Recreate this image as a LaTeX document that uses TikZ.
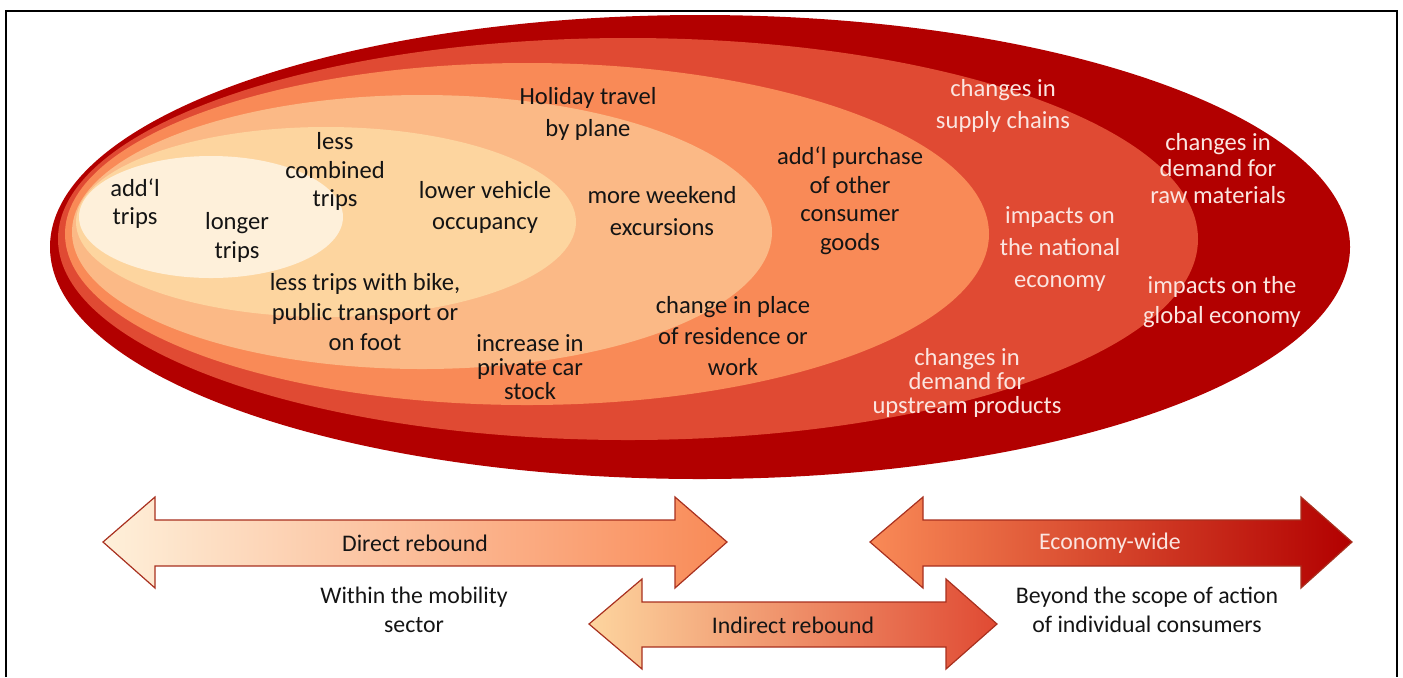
\documentclass[tikz,border=0pt]{standalone}
\usepackage{fontspec}
\setmainfont{Carlito}
\usepackage{tikz}
\usetikzlibrary{positioning,calc}
\definecolor{zoneA}{HTML}{B20000}
\definecolor{zoneB}{HTML}{E04A33}
\definecolor{zoneC}{HTML}{F98A57}
\definecolor{zoneD}{HTML}{FBB986}
\definecolor{zoneE}{HTML}{FDD59F}
\definecolor{zoneF}{HTML}{FEF0DA}
\definecolor{ink}{HTML}{141414}
\definecolor{paleink}{HTML}{FBE5E0}
\definecolor{arrowedge}{HTML}{A8301F}
\tikzset{
  effect/.style={align=center,inner sep=0pt,text=ink,font=\fontsize{12.3}{#1pt}\selectfont},
  effect/.default=14.5,
  wideeffect/.style={effect=#1,text=paleink},
  wideeffect/.default=14.5,
  scope label/.style={align=center,inner sep=0pt,text=ink,font=\fontsize{11.9}{14.5pt}\selectfont},
  blockarrow/.style={draw=arrowedge,line width=0.6pt,line join=miter}
}
\begin{document}
\begin{tikzpicture}[x=0.5pt,y=-0.5pt]
\useasboundingbox (0,0) rectangle (1403,677);
\draw[line width=1pt] (6,677) -- (6,11) -- (1397,11) -- (1397,677);
% nested zones
\fill[zoneA] (700,247) ellipse [x radius=650,y radius=232];
\fill[zoneB] (628,239) ellipse [x radius=570,y radius=201];
\fill[zoneC] (527,234) ellipse [x radius=462,y radius=171];
\fill[zoneD] (422,232) ellipse [x radius=350,y radius=137];
\fill[zoneE] (326,222) ellipse [x radius=250,y radius=95];
\fill[zoneF] (211,217) ellipse [x radius=132,y radius=61];
% effects, inside out
\node[effect=14] (addl) at (135,204) {add‘l\\trips};
\node[effect] (longer) at (237,237.5) {longer\\trips};
\node[effect=14.25] (combined) at (335,171.5) {less\\combined\\trips};
\node[effect=15.5] (occupancy) at (485,207.5) {lower vehicle\\occupancy};
\node[effect=15] (modes) at (365,312) {less trips with bike,\\public transport or\\on foot};
\node[effect=12] (carstock) at (530,367) {increase in\\private car\\stock};
\node[effect=16] (holiday) at (588,114) {Holiday travel\\by plane};
\node[effect=16] (weekend) at (662,211) {more weekend\\excursions};
\node[effect=14.25] (purchase) at (850,200.5) {add‘l purchase\\of other\\consumer\\goods};
\node[effect=15.5] (residence) at (733,336) {change in place\\of residence or\\work};
\node[wideeffect=16] (supply) at (1003,106) {changes in\\supply chains};
\node[wideeffect=13.25] (rawmat) at (1218,168.5) {changes in\\demand for\\raw materials};
\node[wideeffect=16] (national) at (1060,249) {impacts on\\the national\\economy};
\node[wideeffect=15] (global) at (1222,302) {impacts on the\\global economy};
\node[wideeffect=12] (upstream) at (967,383) {changes in\\demand for\\upstream products};
% scope arrows
\shade[blockarrow,left color=zoneF,right color=zoneC] (103,542) -- (155,497) -- (155,520) -- (675,520) -- (675,497) -- (727,542) -- (675,588) -- (675,566) -- (155,566) -- (155,588) -- cycle;
\shade[blockarrow,left color=zoneC,right color=zoneA] (870,542) -- (923,497) -- (923,520) -- (1301,520) -- (1301,497) -- (1352,542) -- (1301,588) -- (1301,566) -- (923,566) -- (923,588) -- cycle;
\shade[blockarrow,left color=zoneE,right color=zoneB] (589,624) -- (642,579) -- (642,602) -- (946,602) -- (946,579) -- (997,624) -- (946,669) -- (946,647) -- (642,647) -- (642,669) -- cycle;
\node[scope label] (direct) at (415,543) {Direct rebound};
\node[scope label,text=paleink] (economy) at (1110,543) {Economy-wide};
\node[scope label] (indirect) at (793,625) {Indirect rebound};
\node[scope label] (mobility) at (414,610) {Within the mobility\\sector};
\node[scope label] (consumers) at (1147,610) {Beyond the scope of action\\of individual consumers};
\end{tikzpicture}
\end{document}
